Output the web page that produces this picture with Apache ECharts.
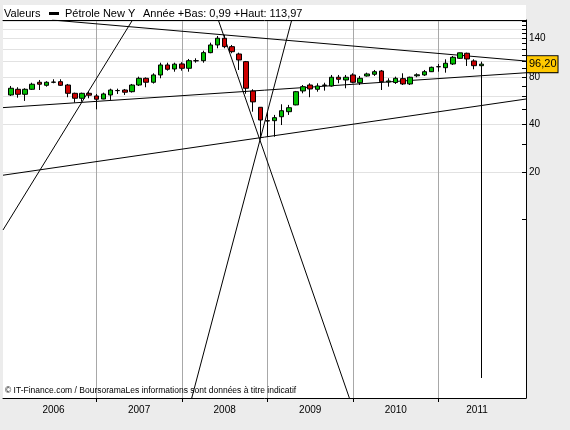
<!DOCTYPE html>
<html>
<head>
<meta charset="utf-8">
<script src="https://cdn.jsdelivr.net/npm/echarts@6/dist/echarts.min.js"></script>
<style>
  html, body { margin: 0; padding: 0; background: #ececec; }
  #chart { width: 570px; height: 430px; }
</style>
</head>
<body>
<div id="chart"></div>
<script>
// monthly candles, index 0 = Jan 2006
const opens = [61.4, 66.7, 62.0, 66.7, 73.9, 70.7, 73.9, 74.5, 71.0, 62.9, 58.5, 62.9,
  60.5, 57.9, 61.4, 65.4, 66.0, 64.4, 71.0, 78.3, 73.9, 82.2, 95.1, 89.7,
  96.5, 90.6, 101.0, 101.2, 113.8, 127.3, 140.4, 124.2, 111.6, 99.8, 65.0, 51.3,
  42.2, 42.2, 44.7, 48.1, 53.1, 65.1, 71.0, 66.7, 70.5, 70.0, 79.5, 76.4,
  82.2, 73.4, 81.0, 83.0, 87.1, 74.2, 73.6, 77.9, 72.1, 81.2, 82.2, 86.2,
  92.6, 91.4, 96.5, 104.8, 112.8, 100.8, 94.1]
const closes = [67.7, 62.0, 66.7, 71.8, 71.8, 73.9, 74.1, 70.7, 62.9, 58.5, 62.9, 61.2,
  57.7, 62.3, 66.0, 65.5, 63.9, 71.0, 78.3, 73.9, 82.2, 95.1, 89.3, 96.2,
  90.6, 101.2, 101.2, 113.8, 127.3, 140.4, 124.2, 115.4, 102.3, 67.7, 55.5, 42.6,
  42.0, 44.1, 48.8, 51.0, 64.4, 69.3, 67.0, 70.0, 71.0, 79.5, 77.2, 79.5,
  73.9, 78.3, 83.4, 86.2, 74.5, 75.3, 78.3, 72.1, 79.5, 82.4, 86.2, 91.9,
  92.8, 97.5, 106.4, 113.5, 103.8, 94.1, 96.2]
const lows = [60.5, 59.0, 56.3, 66.0, 66.0, 69.3, 72.8, 70.0, 59.4, 54.9, 55.7, 58.5,
  49.8, 57.7, 57.1, 62.3, 61.4, 63.6, 70.0, 68.7, 72.5, 78.3, 87.5, 86.2,
  87.5, 86.2, 98.3, 98.3, 112.8, 121.3, 121.3, 112.8, 88.4, 62.5, 48.1, 32.8,
  33.4, 33.4, 39.6, 45.9, 52.8, 62.9, 59.4, 64.4, 65.4, 69.3, 72.8, 67.7,
  72.8, 71.0, 80.2, 81.0, 66.0, 69.3, 72.1, 71.0, 71.0, 79.5, 81.0, 85.8,
  86.2, 85.0, 95.1, 103.8, 93.7, 89.3, 0.99]
const highs = [70.0, 68.7, 67.7, 73.4, 76.4, 75.0, 77.2, 77.2, 72.1, 63.5, 63.5, 64.8,
  62.3, 63.5, 67.3, 67.3, 67.0, 72.1, 80.2, 79.3, 84.2, 98.3, 98.3, 98.3,
  99.0, 103.8, 104.8, 117.1, 131.6, 145.1, 147.3, 127.3, 113.8, 100.8, 66.7, 51.5,
  48.6, 45.9, 53.6, 53.1, 65.1, 71.0, 72.8, 72.8, 73.4, 82.2, 82.2, 82.2,
  84.2, 81.0, 85.0, 88.4, 88.4, 78.3, 80.2, 84.2, 80.2, 84.2, 88.4, 92.8,
  96.5, 103.3, 108.4, 113.97, 113.8, 103.3, 99.8]

const yearLabels = ['2006', '2007', '2008', '2009', '2010', '2011']
const yearLabelPos = [6, 18, 30, 42, 54, 65.4]
const yearStarts = [12, 24, 36, 48, 60]

const priceTicks = [10, 20, 30, 40, 50, 60, 70, 80, 90, 100, 110, 120, 130, 140, 150, 160, 170, 180]
const priceLabels = [20, 40, 80, 140]
const priceGrid = [20, 40, 60, 80, 100, 120, 140, 160, 180]
const lastPrice = 96.2

// hand drawn trend lines, [month index, price]
const trendTop = [[5.8, 183.2], [72.3, 100.7]]
const trendMid = [[-1.09, 51.05], [72.3, 84.9]]
const trendLow = [[-1.09, 19.05], [72.3, 57.9]]
const trendSteep = [[-1.09, 8.57], [17.08, 183.2]]
const trendFanDown = [[29.11, 183.2], [48.56, 0.537]]
const trendFanUp = [[24.57, 0.537], [39.41, 183.2]]

const xMin = -1.09
const xMax = 72.27
const yMin = 0.7395
const yMax = 183.2

const font = 'Liberation Sans, Arial, sans-serif'

const candles = opens.map((o, i) => [i, o, closes[i], lows[i], highs[i]])

const trendSeries = [trendTop, trendMid, trendLow, trendSteep, trendFanDown, trendFanUp].map(d => ({
  type: 'line',
  data: d,
  symbol: 'none',
  silent: true,
  lineStyle: { color: '#000', width: 1 },
  z: 3
}))

const chart = echarts.init(document.getElementById('chart'))

const option = {
  animation: false,
  backgroundColor: '#ececec',
  textStyle: { fontFamily: font },
  graphic: [
    { type: 'rect', z: -10, silent: true, shape: { x: 3, y: 5, width: 523, height: 393 }, style: { fill: '#fff' } },
    { type: 'text', left: 4, top: 8, style: { text: 'Valeurs', font: '11px ' + font, fill: '#000' } },
    { type: 'rect', shape: { x: 49, y: 12, width: 10, height: 3 }, style: { fill: '#000' } },
    { type: 'text', left: 65, top: 8, style: { text: 'Pétrole New Y', font: '11px ' + font, fill: '#000' } },
    { type: 'text', left: 143, top: 8, style: { text: 'Année +Bas: 0,99 +Haut: 113,97', font: '11px ' + font, fill: '#000' } },
    { type: 'text', left: 5, top: 386, z: 10, style: { text: '© IT-Finance.com / BoursoramaLes informations sont données à titre indicatif', font: '8.5px ' + font, fill: '#000' } }
  ],
  grid: {
    left: 3,
    right: 44,
    top: 20,
    bottom: 32,
    show: false
  },
  xAxis: [
    {
      type: 'value',
      min: xMin,
      max: xMax,
      axisLine: { onZero: false, lineStyle: { color: '#000', width: 1 } },
      axisTick: { customValues: yearStarts, length: 4, lineStyle: { color: '#000' } },
      axisLabel: {
        customValues: yearLabelPos,
        formatter: v => yearLabels[yearLabelPos.indexOf(v)],
        color: '#000',
        fontSize: 10,
        margin: 7
      },
      splitLine: { show: true, lineStyle: { color: '#a8a8a8', width: 1 } }
    },
    {
      type: 'value',
      position: 'top',
      min: xMin,
      max: xMax,
      axisLine: { onZero: false, lineStyle: { color: '#000', width: 1 } },
      axisTick: { show: false },
      axisLabel: { show: false },
      splitLine: { show: false }
    }
  ],
  yAxis: [
    {
      type: 'log',
      position: 'right',
      min: yMin,
      max: yMax,
      axisLine: { show: true, onZero: false, lineStyle: { color: '#000', width: 1 } },
      axisTick: { show: true, inside: true, length: 4, customValues: priceTicks, lineStyle: { color: '#000' } },
      axisLabel: {
        customValues: priceLabels,
        formatter: v => String(Math.round(v)),
        color: '#000',
        fontSize: 10,
        margin: 3
      },
      splitLine: { show: false }
    },
    {
      type: 'log',
      position: 'right',
      min: yMin,
      max: yMax,
      axisLine: { show: false, onZero: false },
      axisTick: { show: false, customValues: priceGrid },
      axisLabel: { show: false },
      splitLine: { show: true, lineStyle: { color: '#e2e2e2', width: 1 } }
    }
  ],
  series: [
    {
      name: 'Pétrole New Y',
      type: 'candlestick',
      data: candles,
      encode: { x: 0, y: [1, 2, 3, 4] },
      barWidth: 5,
      z: 4,
      itemStyle: {
        color: '#00c000',
        color0: '#cc0000',
        borderColor: '#000',
        borderColor0: '#000',
        borderColorDoji: '#000',
        borderWidth: 1
      },
      markLine: {
        silent: true,
        symbol: 'none',
        lineStyle: { color: 'rgba(0,0,0,0)', width: 1, type: 'solid' },
        data: [{ yAxis: lastPrice }],
        label: {
          show: true,
          position: 'end',
          distance: 1,
          formatter: () => lastPrice.toFixed(2).replace('.', ','),
          color: '#000',
          fontSize: 11,
          backgroundColor: '#ffc800',
          borderColor: '#000',
          borderWidth: 1,
          padding: [3, 1, 2, 2]
        }
      }
    },
    ...trendSeries
  ]
}

chart.setOption(option)
</script>
</body>
</html>
